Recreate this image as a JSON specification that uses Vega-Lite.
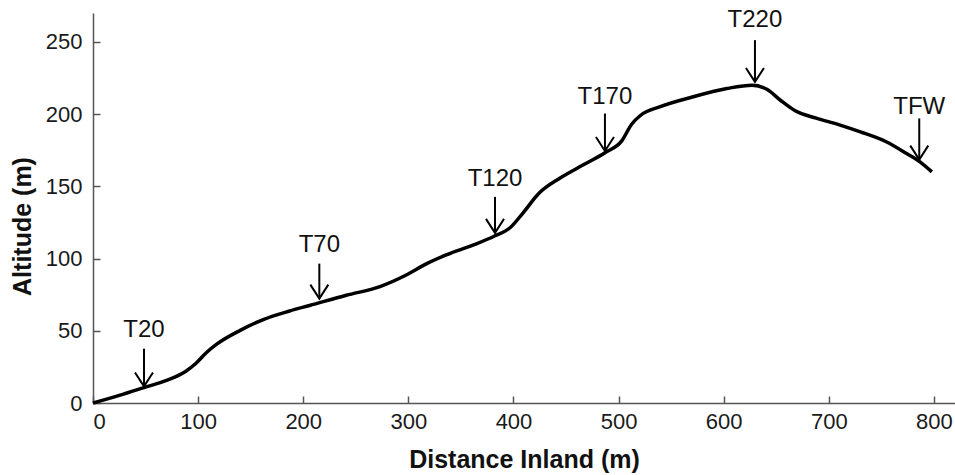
{
  "$schema": "https://vega.github.io/schema/vega-lite/v6.json",
  "autosize": {"type": "none"},
  "padding": {"left": 93, "top": 13, "right": 0, "bottom": 72},
  "width": 862,
  "height": 390,
  "background": "white",
  "config": {
    "view": {"stroke": null},
    "font": "Liberation Sans",
    "axis": {
      "grid": false,
      "domainColor": "#555555",
      "domainWidth": 1.5,
      "tickColor": "#555555",
      "tickWidth": 1.5,
      "tickSize": -7,
      "labelFont": "Liberation Sans",
      "labelFontSize": 22,
      "labelColor": "#1a1a1a",
      "titleFont": "Liberation Sans",
      "titleFontSize": 25,
      "titleFontWeight": "bold",
      "titleColor": "#111111"
    }
  },
  "datasets": {
    "profile": [
      {"d": 0, "alt": 0},
      {"d": 25, "alt": 5.3},
      {"d": 48.5, "alt": 10.7},
      {"d": 70, "alt": 15.7},
      {"d": 88, "alt": 21.8},
      {"d": 98, "alt": 27.5},
      {"d": 108, "alt": 35},
      {"d": 118, "alt": 40.9},
      {"d": 140, "alt": 50.3},
      {"d": 162, "alt": 57.8},
      {"d": 187, "alt": 63.7},
      {"d": 206, "alt": 67.5},
      {"d": 241, "alt": 74.6},
      {"d": 273, "alt": 80.6},
      {"d": 298, "alt": 88.6},
      {"d": 317, "alt": 96.3},
      {"d": 336, "alt": 102.5},
      {"d": 362, "alt": 109.4},
      {"d": 382, "alt": 115.6},
      {"d": 397, "alt": 121.5},
      {"d": 409, "alt": 131.5},
      {"d": 424, "alt": 145},
      {"d": 444, "alt": 155.6},
      {"d": 466, "alt": 164.7},
      {"d": 487, "alt": 173.3},
      {"d": 503, "alt": 181.5},
      {"d": 512.4, "alt": 193},
      {"d": 521, "alt": 199.2},
      {"d": 539, "alt": 205},
      {"d": 571, "alt": 212},
      {"d": 603, "alt": 217.7},
      {"d": 627, "alt": 220},
      {"d": 641, "alt": 217.2},
      {"d": 654, "alt": 209.6},
      {"d": 668, "alt": 202.3},
      {"d": 688, "alt": 197.2},
      {"d": 710, "alt": 192.6},
      {"d": 730, "alt": 187.7},
      {"d": 755, "alt": 180.7},
      {"d": 774, "alt": 172.7},
      {"d": 787, "alt": 166.8},
      {"d": 798, "alt": 160}
    ],
    "arrows": [
      {"label": "T20", "x": 48.5, "top": 37.6, "tip": 11.5, "labelY": 45.5},
      {"label": "T70", "x": 215.3, "top": 96.5, "tip": 72.3, "labelY": 104.6},
      {"label": "T120", "x": 382.4, "top": 142.7, "tip": 117.8, "labelY": 150.3},
      {"label": "T170", "x": 487, "top": 200.4, "tip": 174.5, "labelY": 206.9},
      {"label": "T220", "x": 629.7, "top": 251.2, "tip": 222.3, "labelY": 260},
      {"label": "TFW", "x": 786, "top": 197, "tip": 168.5, "labelY": 200.4}
    ]
  },
  "layer": [
    {
      "data": {"name": "profile"},
      "mark": {"type": "line", "color": "#000000", "strokeWidth": 3.5, "interpolate": "monotone"},
      "encoding": {
        "x": {
          "field": "d", "type": "quantitative",
          "scale": {"domain": [0, 820], "nice": false, "zero": false},
          "axis": {
            "values": [0, 100, 200, 300, 400, 500, 600, 700, 800],
            "labelPadding": 15,
            "title": "Distance Inland (m)",
            "titleX": 431, "titleY": 56, "titleBaseline": "middle", "titleAnchor": null, "titleAlign": "center"
          }
        },
        "y": {
          "field": "alt", "type": "quantitative",
          "scale": {"domain": [0, 270], "nice": false},
          "axis": {
            "values": [0, 50, 100, 150, 200, 250],
            "labelPadding": 18,
            "title": "Altitude (m)",
            "titleAngle": 270,
            "titleX": -71, "titleY": 213, "titleBaseline": "middle", "titleAlign": "center"
          }
        }
      }
    },
    {
      "data": {"name": "arrows"},
      "mark": {"type": "rule", "color": "#000000", "strokeWidth": 2},
      "encoding": {
        "x": {"field": "x", "type": "quantitative"},
        "y": {"field": "top", "type": "quantitative"},
        "y2": {"field": "tip"}
      }
    },
    {
      "data": {"name": "arrows"},
      "mark": {"type": "point", "shape": "M-1,-1.55L0,0L1,-1.55", "filled": false, "size": 324, "stroke": "#000000", "strokeWidth": 2, "opacity": 1},
      "encoding": {
        "x": {"field": "x", "type": "quantitative"},
        "y": {"field": "tip", "type": "quantitative"}
      }
    },
    {
      "data": {"name": "arrows"},
      "mark": {"type": "text", "font": "Liberation Sans", "fontSize": 24, "color": "#111111", "align": "center", "baseline": "alphabetic"},
      "encoding": {
        "x": {"field": "x", "type": "quantitative"},
        "y": {"field": "labelY", "type": "quantitative"},
        "text": {"field": "label"}
      }
    }
  ]
}
